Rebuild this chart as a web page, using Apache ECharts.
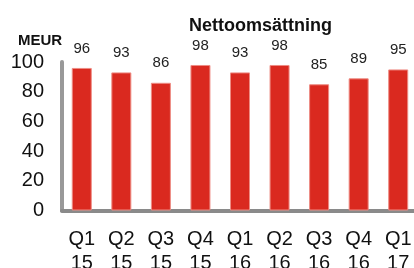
<!DOCTYPE html>
<html>
<head>
<meta charset="utf-8">
<script src="https://cdn.jsdelivr.net/npm/echarts@6/dist/echarts.min.js"></script>
<style>
html,body{margin:0;padding:0;background:#fff;}
#chart{width:414px;height:268px;}
</style>
</head>
<body>
<div id="chart"></div>
<script>
// kvartal och nettoomsättning (MEUR)
var quarters = ['Q1\n15','Q2\n15','Q3\n15','Q4\n15','Q1\n16','Q2\n16','Q3\n16','Q4\n16','Q1\n17'];
var sales = [96, 93, 86, 98, 93, 98, 85, 89, 95];
var yTicks = [0, 20, 40, 60, 80, 100];

var myChart = echarts.init(document.getElementById('chart'));
myChart.setOption({
	animation: false,
	title: [
		{
			text: 'Nettoomsättning',
			left: 184,
			top: 12,
			textStyle: {fontFamily: 'Liberation Sans', fontSize: 18, fontWeight: 'bold', color: '#111'}
		},
		{
			text: 'MEUR',
			left: 13,
			top: 28,
			textStyle: {fontFamily: 'Liberation Sans', fontSize: 15, fontWeight: 'bold', color: '#111'}
		}
	],
	grid: {
		left: 62,
		right: -4,
		top: 62,
		bottom: 57.5,
		outerBoundsMode: 'none',
		containLabel: false
	},
	xAxis: {
		type: 'category',
		data: quarters,
		axisTick: {show: false},
		axisLine: {show: true, lineStyle: {color: '#8a8a8a', width: 4}},
		axisLabel: {
			interval: 0,
			margin: 17,
			fontFamily: 'Liberation Sans',
			fontSize: 20,
			lineHeight: 24,
			color: '#111'
		}
	},
	yAxis: {
		type: 'value',
		min: yTicks[0],
		max: yTicks[yTicks.length - 1],
		interval: 20,
		splitLine: {show: false},
		axisTick: {show: false},
		axisLine: {show: true, lineStyle: {color: '#999', width: 4}},
		axisLabel: {
			margin: 18,
			fontFamily: 'Liberation Sans',
			fontSize: 20,
			color: '#111'
		}
	},
	series: [
		{
			type: 'bar',
			data: sales,
			barWidth: 20,
			itemStyle: {color: '#DA291F', borderColor: '#EE8C84', borderWidth: 1},
			label: {
				show: true,
				position: 'top',
				distance: 12,
				fontFamily: 'Liberation Sans',
				fontSize: 15,
				color: '#222'
			}
		}
	]
});
</script>
</body>
</html>
